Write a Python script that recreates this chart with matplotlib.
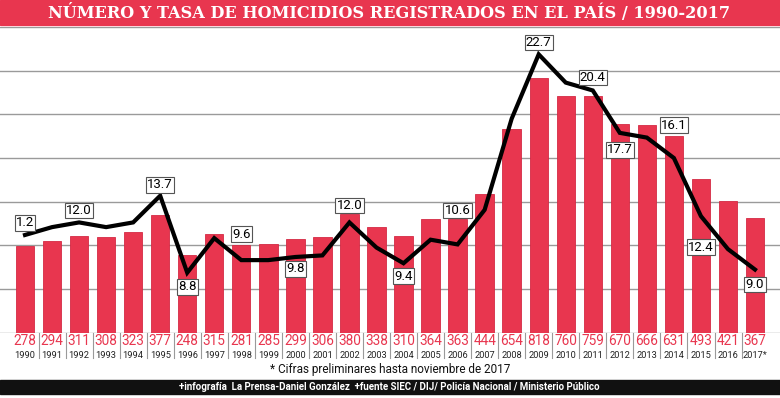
import numpy as np
import matplotlib.pyplot as plt

# datos
years = ["1990", "1991", "1992", "1993", "1994", "1995", "1996", "1997", "1998", "1999",
         "2000", "2001", "2002", "2003", "2004", "2005", "2006", "2007", "2008", "2009",
         "2010", "2011", "2012", "2013", "2014", "2015", "2016", "2017*"]
homicidios = [278, 294, 311, 308, 323, 377, 248, 315, 281, 285,
              299, 306, 380, 338, 310, 364, 363, 444, 654, 818,
              760, 759, 670, 666, 631, 493, 421, 367]
# tasa por cada 100 mil habitantes
tasa = [11.2, 11.7, 12.0, 11.7, 12.0, 13.7, 8.8, 11.0, 9.6, 9.6,
        9.8, 9.9, 12.0, 10.4, 9.4, 10.9, 10.6, 12.8, 18.6, 22.7,
        20.9, 20.4, 17.7, 17.4, 16.1, 12.4, 10.3, 9.0]
# etiquetas de tasa tal como aparecen
tasa_labels = {0: "1.2", 2: "12.0", 5: "13.7", 6: "8.8", 8: "9.6", 10: "9.8",
               12: "12.0", 14: "9.4", 16: "10.6", 19: "22.7", 21: "20.4",
               22: "17.7", 24: "16.1", 25: "12.4", 27: "9.0"}
label_dy = {0: 12, 2: 12, 5: 11, 6: -14, 8: 26, 10: -12, 12: 17, 14: -13,
            16: 34, 19: 12, 21: 13, 22: -17, 24: 33, 25: -31, 27: -15}

RED = "#e8364f"
W, H = 780, 398
fig = plt.figure(figsize=(W / 100, H / 100), dpi=100)
narrow = ["Roboto", "DejaVu Sans"]

# axes: top 27px, bottom 332.7px
ax = fig.add_axes([0, (H - 332.7) / H, 1, (332.7 - 27) / H])
x = np.arange(len(years))
ax.bar(x, homicidios, width=0.68, color=RED, edgecolor="#d42a44", linewidth=0.6, zorder=2)
ax.set_xlim(-0.925, len(years) - 1 + 0.925)
ax.set_ylim(0, 980)
for g in np.arange(0, 981, 140):
    ax.axhline(g, color="#9a9a9a", lw=1.0, zorder=1)
ax.set_xticks([])
ax.set_yticks([])
for s in ax.spines.values():
    s.set_visible(False)

ax2 = ax.twinx()
ax2.set_ylim(4.98, 24.44)
ax2.plot(x, tasa, color="black", lw=3, solid_joinstyle="miter", zorder=3)
ax2.set_yticks([])
for s in ax2.spines.values():
    s.set_visible(False)
for i, txt in tasa_labels.items():
    ax2.annotate(txt, (x[i], tasa[i]), xytext=(0, label_dy[i]), textcoords="offset pixels",
                 ha="center", va="center", fontsize=9.5, family=narrow, zorder=5,
                 bbox=dict(boxstyle="square,pad=0.1", fc="white", ec="#555555", lw=0.8))

# numeros y años bajo las barras
for i in range(len(years)):
    xf = (25 + i * 27.04) / W
    fig.text(xf, 1 - 341 / H, str(homicidios[i]), color=RED, fontsize=9.8,
             ha="center", va="center", family=narrow)
    fig.text(xf, 1 - 355 / H, years[i], color="#222222", fontsize=6.7,
             ha="center", va="center", family=narrow)
    if i > 0:
        xs = (25 + (i - 0.5) * 27.04) / W
        fig.add_artist(plt.Line2D([xs, xs], [1 - 333 / H, 1 - 358 / H],
                                  color="#9a9a9a", lw=0.8, transform=fig.transFigure))

fig.text(390 / W, 1 - 369.5 / H, "* Cifras preliminares hasta noviembre de 2017",
         fontsize=8.5, ha="center", va="center", family=narrow, color="#111111")

# titulo
fig.add_artist(plt.Rectangle((0, 1 - 24.5 / H), 1, 24.5 / H, color=RED,
                             transform=fig.transFigure, zorder=0))
fig.text(389 / W, 1 - 12.5 / H, "NÚMERO Y TASA DE HOMICIDIOS REGISTRADOS EN EL PAÍS / 1990-2017",
         color="white", fontsize=11.6, fontweight="bold", family="DejaVu Serif",
         ha="center", va="center")

# pie
fig.add_artist(plt.Rectangle((0, 1 - 394 / H), 1, 14.5 / H, color="#111111",
                             transform=fig.transFigure, zorder=0))
fig.text(389 / W, 1 - 386.5 / H,
         "+infografía  La Prensa-Daniel González  +fuente SIEC / DIJ/ Policía Nacional / Ministerio Público",
         color="white", fontsize=7, fontweight="bold", family=narrow, ha="center", va="center")

fig.savefig("out.png", dpi=100)
